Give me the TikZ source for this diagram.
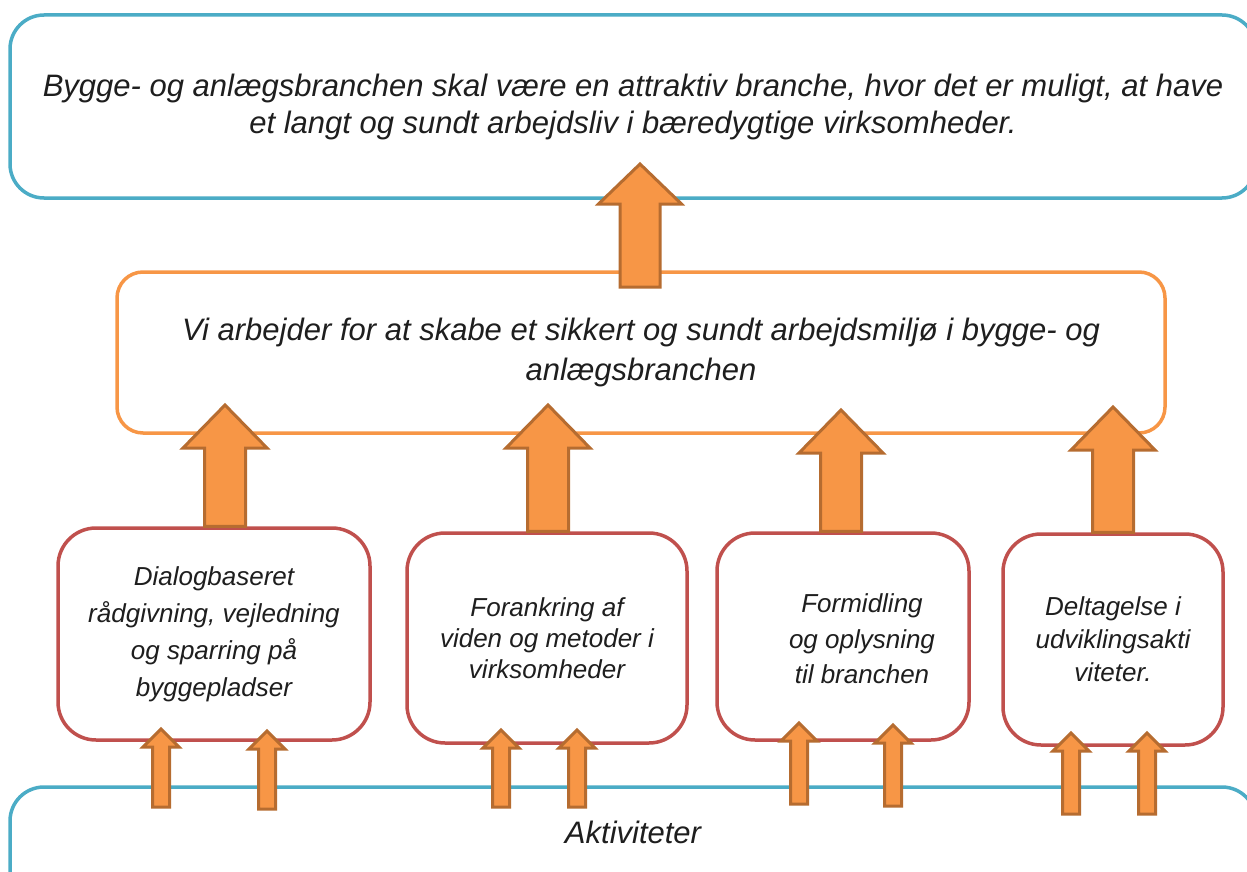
\documentclass[tikz,border=0pt]{standalone}
\usepackage{fontspec}
\setmainfont{Liberation Sans}
\usetikzlibrary{calc}
\definecolor{boxblue}{RGB}{75,172,198}
\definecolor{boxorange}{RGB}{247,150,70}
\definecolor{boxred}{RGB}{192,80,77}
\definecolor{arrowline}{RGB}{182,108,48}
\definecolor{txt}{RGB}{30,30,30}

\newcommand{\fatarrow}[5]{%
	\filldraw[arrowbody] let \p1=(#1), \p2=(#2) in
		(\x1-#3pt,\y1) -- (\x1-#3pt,\y2-#5pt) -- (\x1-#4pt,\y2-#5pt) -- (\x1,\y2)
		-- (\x1+#4pt,\y2-#5pt) -- (\x1+#3pt,\y2-#5pt) -- (\x1+#3pt,\y1) -- cycle;}

\begin{document}
\begin{tikzpicture}[x=1pt,y=-1pt,
		box/.style={draw=#1,line width=3.5pt,fill=white,align=center,inner sep=0pt,text=txt},
		bigtxt/.style={font=\itshape\fontsize{31}{#1}\selectfont},
		smalltxt/.style={font=\itshape\fontsize{26}{#1}\selectfont,align=center,text=txt},
		arrowbody/.style={fill=boxorange,draw=arrowline,line width=3pt}]
			\useasboundingbox (0,0) rectangle (1247,872);
			\clip (0,0) rectangle (1247,872);
			\node[box=boxblue,bigtxt=37,rounded corners=34pt,minimum width=1246pt,minimum height=183pt] (goal) at (633,106.5)
				{Bygge- og anlægsbranchen skal være en attraktiv branche, hvor det er muligt, at have\\et langt og sundt arbejdsliv i bæredygtige virksomheder.};
			\node[box=boxorange,bigtxt=40,rounded corners=26pt,minimum width=1048pt,minimum height=161pt] (mission) at (641,352.5)
				{Vi arbejder for at skabe et sikkert og sundt arbejdsmiljø i bygge- og\\anlægsbranchen};
			\node[box=boxblue,rounded corners=34pt,minimum width=1246pt,minimum height=183pt] (base) at (633,878.5) {};
			\node[bigtxt=37,text=txt] (akt) at (633,832) {Aktiviteter};
			\node[box=boxred,smalltxt=37,rounded corners=38pt,minimum width=312pt,minimum height=212pt] (b1) at (214,634)
				{Dialogbaseret\\rådgivning, vejledning\\og sparring på\\byggepladser};
			\node[box=boxred,smalltxt=31,rounded corners=38pt,minimum width=280pt,minimum height=210pt] (b2) at (547,638)
				{Forankring af\\viden og metoder i\\virksomheder};
			\node[box=boxred,rounded corners=38pt,minimum width=252pt,minimum height=207pt] (b3) at (843,636.5) {};
			\node[smalltxt=35.5] (t3) at (862,639) {Formidling\\og oplysning\\til branchen};
			\node[box=boxred,smalltxt=33,rounded corners=38pt,minimum width=220pt,minimum height=211pt] (b4) at (1113,639.5)
				{Deltagelse i\\udviklingsakti\\viteter.};
			\fatarrow{640,287}{640,164}{20}{41.5}{40}
			\fatarrow{225,0 |- b1.north}{225,405}{20.5}{42}{43}
			\fatarrow{548,0 |- b2.north}{548,405}{20.5}{42}{43}
			\fatarrow{841,0 |- b3.north}{841,410}{20.5}{42}{43}
			\fatarrow{1113,0 |- b4.north}{1113,407}{20.5}{42}{43}
			\foreach \ax/\yt/\yb in {161/729/807, 267/731/809, 501/730/807, 577/730/807,
				799/723/804, 893/725/806, 1071/733/814, 1147/733/814}
				\fatarrow{\ax,\yb}{\ax,\yt}{8.5}{18}{18};
		\end{tikzpicture}
\end{document}
